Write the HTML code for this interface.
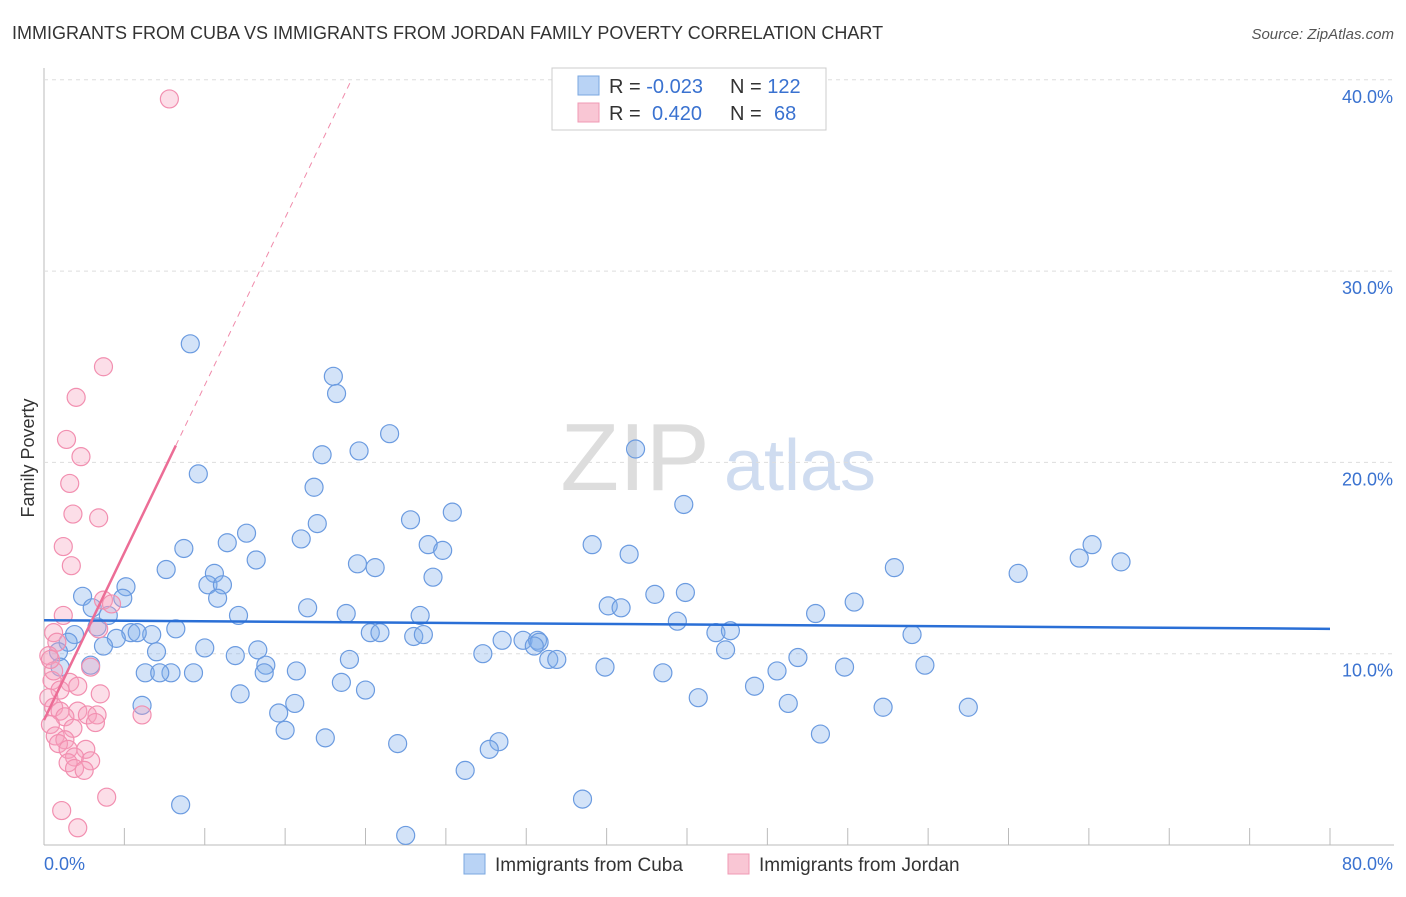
<!DOCTYPE html>
<html><head><meta charset="utf-8"><style>
body{margin:0;background:#fff;font-family:"Liberation Sans",sans-serif}
svg text{font-family:"Liberation Sans",sans-serif}
</style></head><body>
<svg id="c" width="1406" height="892">
<text x="12" y="39" font-size="18" fill="#333">IMMIGRANTS FROM CUBA VS IMMIGRANTS FROM JORDAN FAMILY POVERTY CORRELATION CHART</text>
<text x="1394" y="39" font-size="15" fill="#555" font-style="italic" text-anchor="end">Source: ZipAtlas.com</text>
<text x="34" y="458" font-size="18" fill="#333" text-anchor="middle" transform="rotate(-90 34 458)">Family Poverty</text>
<g><text x="635" y="490" font-size="96" fill="#ddd" font-family="Liberation Serif" text-anchor="middle">ZIP</text><text x="800" y="490" font-size="72" fill="#cfdcf0" text-anchor="middle">atlas</text></g>
<g id="grid"></g><g id="pts"></g><g id="trend"></g>
<g>
<rect x="552" y="68" width="274" height="62" fill="#fff" stroke="#ccc"/>
<rect x="578" y="76" width="21" height="19" fill="#b9d3f5" stroke="#7aa7e0"/>
<rect x="578" y="103" width="21" height="19" fill="#f9c6d4" stroke="#f09ab4"/>
<text x="609" y="93" font-size="20" fill="#333">R = <tspan fill="#3a72d0">-0.023</tspan><tspan x="730">N = </tspan><tspan fill="#3a72d0">122</tspan></text>
<text x="609" y="120" font-size="20" fill="#333">R = <tspan x="652" fill="#3a72d0">0.420</tspan><tspan x="730">N = </tspan><tspan x="774" fill="#3a72d0">68</tspan></text>
</g>
<g>
<rect x="464" y="854" width="21" height="20" fill="#b9d3f5" stroke="#7aa7e0"/>
<text x="495" y="871" font-size="19" fill="#333">Immigrants from Cuba</text>
<rect x="728" y="854" width="21" height="20" fill="#f9c6d4" stroke="#f09ab4"/>
<text x="759" y="871" font-size="19" fill="#333">Immigrants from Jordan</text>
</g>
</svg>
<script>
const cubaX=[9.1,18.0,18.2,21.5,36.8,17.3,19.6,9.6,16.8,39.8,25.4,22.8,17.0,12.6,16.0,11.4,23.9,34.1,65.2,24.8,8.7,36.4,64.4,67.0,13.2,19.5,20.6,7.6,52.9,60.6,10.6,24.2,5.1,10.2,11.1,39.9,38.0,2.4,4.9,10.8,50.4,35.1,35.9,3.0,16.4,48.0,12.1,18.8,23.4,4.0,39.4,3.3,8.2,20.3,20.9,41.8,42.7,5.4,6.7,5.8,54.0,1.9,4.5,23.0,23.6,28.5,29.8,30.7,30.8,1.5,3.7,30.5,10.0,13.3,7.0,42.4,0.9,27.3,11.9,46.9,19.0,31.4,31.9,2.9,13.8,54.8,1.0,34.9,45.6,49.8,6.3,7.9,9.3,7.2,13.7,15.7,38.5,18.5,20.0,44.2,12.2,40.7,6.1,15.6,46.3,52.2,57.5,14.6,15.0,17.5,48.3,22.0,28.3,27.7,26.2,8.5,33.5,22.5];
const cubaY=[26.2,24.5,23.6,21.5,20.7,20.4,20.6,19.4,18.7,17.8,17.4,17.0,16.8,16.3,16.0,15.8,15.7,15.7,15.7,15.4,15.5,15.2,15.0,14.8,14.9,14.7,14.5,14.4,14.5,14.2,14.2,14.0,13.5,13.6,13.6,13.2,13.1,13.0,12.9,12.9,12.7,12.5,12.4,12.4,12.4,12.1,12.0,12.1,12.0,12.0,11.7,11.4,11.3,11.1,11.1,11.1,11.2,11.1,11.0,11.1,11.0,11.0,10.8,10.9,11.0,10.7,10.7,10.7,10.6,10.6,10.4,10.4,10.3,10.2,10.1,10.2,10.1,10.0,9.9,9.8,9.7,9.7,9.7,9.4,9.4,9.4,9.3,9.3,9.1,9.3,9.0,9.0,9.0,9.0,9.0,9.1,9.0,8.5,8.1,8.3,7.9,7.7,7.3,7.4,7.4,7.2,7.2,6.9,6.0,5.6,5.8,5.3,5.4,5.0,3.9,2.1,2.4,0.5];
const jordanX=[7.8,3.7,2.0,1.4,2.3,1.6,1.8,3.4,1.2,1.7,1.2,3.7,4.2,3.4,0.6,0.8,0.3,2.9,0.5,1.6,1.0,2.1,0.3,3.5,0.6,1.0,2.1,2.7,3.3,6.1,1.3,3.2,0.4,1.8,0.7,1.3,0.9,1.5,2.6,1.9,2.9,1.5,1.9,2.5,3.9,1.1,2.1,0.6,0.4];
const jordanY=[39.0,25.0,23.4,21.2,20.3,18.9,17.3,17.1,15.6,14.6,12.0,12.8,12.6,11.3,11.1,10.6,9.9,9.3,8.6,8.5,8.1,8.3,7.7,7.9,7.2,7.0,7.0,6.8,6.8,6.8,6.7,6.4,6.3,6.1,5.7,5.5,5.3,5.0,5.0,4.6,4.4,4.3,4.0,3.9,2.5,1.8,0.9,9.1,9.7];
const yTicks=[10,20,30,40];
const yTickLabels=["10.0%","20.0%","30.0%","40.0%"];
const xTicks=[0,5,10,15,20,25,30,35,40,45,50,55,60,65,70,75,80];
const cubaTrend=[11.75,11.3];
const jordanTrend=[6.53,1.75];
const NS='http://www.w3.org/2000/svg';
const sx=v=>44+v*16.075, sy=v=>845-v*19.13;
function mk(t,a,p){const e=document.createElementNS(NS,t);for(const k in a)e.setAttribute(k,a[k]);p.appendChild(e);return e;}
const grid=document.getElementById('grid');
let ax=mk('line',{x1:44,y1:68,x2:44,y2:845,stroke:'#bbb'},grid);


let bx=mk('line',{x1:44,y1:845,x2:1394,y2:845,stroke:'#bbb'},grid);


yTicks.forEach((v,i)=>{
 let g=mk('line',{x1:44,y1:sy(v),x2:1394,y2:sy(v),stroke:'#ddd','stroke-dasharray':'4,4'},grid);
 
 
 let t=mk('text',{x:1393,y:sy(v)+23,'font-size':18,fill:'#3a72d0','text-anchor':'end'},grid);
 t.textContent=yTickLabels[i];
 
 
});
xTicks.forEach(v=>{if(v%5==0&&v>0&&(v/5)%1==0){
 if(v%5!==0)return;
 let l=mk('line',{x1:sx(v),y1:828,x2:sx(v),y2:845,stroke:'#bbb'},grid);
 
 
}});
let x0=mk('text',{x:44,y:870,'font-size':18,fill:'#3a72d0'},grid);x0.textContent='0.0%';


let x1=mk('text',{x:1393,y:870,'font-size':18,fill:'#3a72d0','text-anchor':'end'},grid);x1.textContent='80.0%';


const pts=document.getElementById('pts');
cubaX.forEach((v,i)=>{
 let c=mk('circle',{cx:sx(v),cy:sy(cubaY[i]),r:9,fill:'rgba(130,175,235,0.35)',stroke:'#6b9be0','stroke-width':1.2},pts);
 
 
});
jordanX.forEach((v,i)=>{
 let c=mk('circle',{cx:sx(v),cy:sy(jordanY[i]),r:9,fill:'rgba(245,160,190,0.35)',stroke:'#f28fb0','stroke-width':1.2},pts);
 
 
});
const tr=document.getElementById('trend');
let bl=mk('line',{x1:sx(0),y1:sy(cubaTrend[0]),x2:sx(80),y2:sy(cubaTrend[1]),stroke:'#2a6fd6','stroke-width':2.5},tr);


const jf=x=>jordanTrend[0]+jordanTrend[1]*x;
const xEnd=(40-jordanTrend[0])/jordanTrend[1];
let pd=mk('line',{x1:sx(8.2),y1:sy(jf(8.2)),x2:sx(xEnd),y2:sy(jf(xEnd)),stroke:'#f08aaa','stroke-width':1,'stroke-dasharray':'6,5'},tr);


let pl=mk('line',{x1:sx(0),y1:sy(jf(0)),x2:sx(8.2),y2:sy(jf(8.2)),stroke:'#ec6d96','stroke-width':2.5},tr);


</script>
</body></html>
